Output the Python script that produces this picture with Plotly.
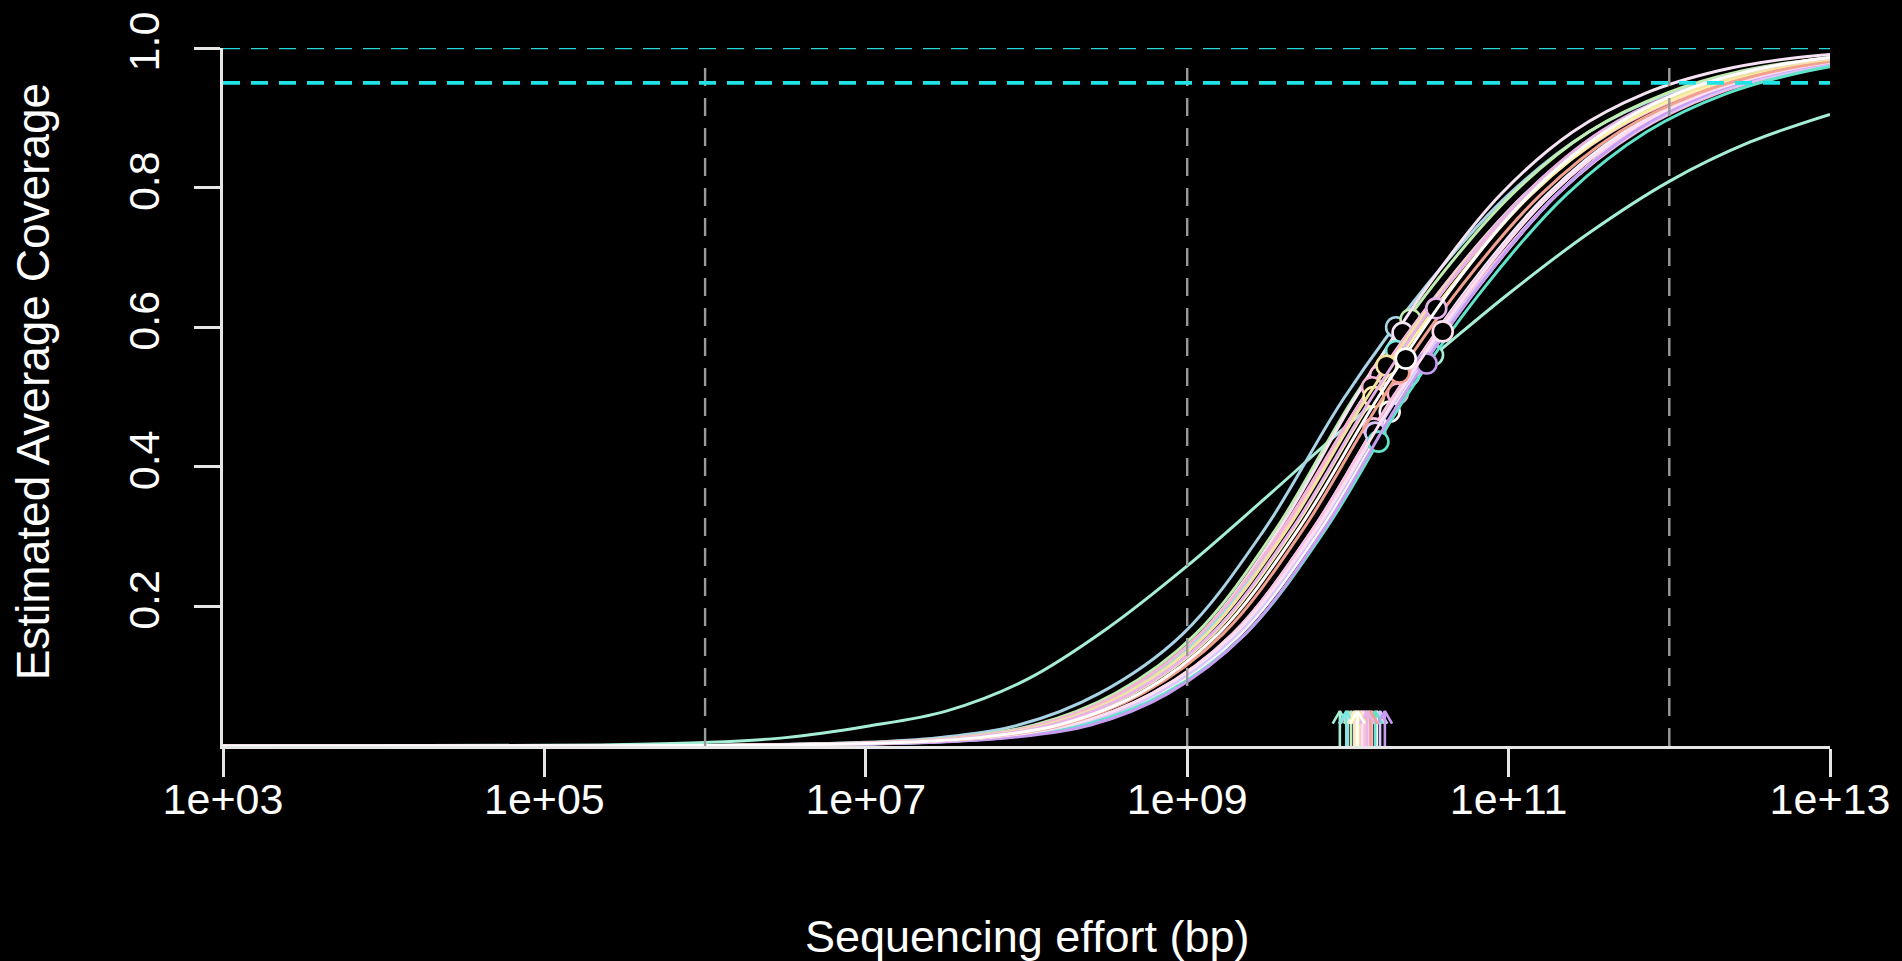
import plotly.graph_objects as go

# ---------------- data ----------------
# coverage levels at which each sample's modelled curve is sampled
COVERAGE_LEVELS = [0.0, 0.0008, 0.005, 0.012, 0.03, 0.075, 0.16, 0.31, 0.5,
                   0.66, 0.79, 0.88, 0.935, 0.967, 0.985, 0.993]

# log10(effort, bp) at which each sample's curve reaches the levels above
effort_lightblue = [3.0, 5.95, 6.95, 7.45, 7.95, 8.45, 8.97, 9.48, 9.98, 10.49, 11.0, 11.5, 12.0, 12.5, 13.0, 13.5]
effort_green = [3.0, 6.05, 7.05, 7.55, 8.05, 8.55, 9.05, 9.55, 10.04, 10.53, 11.02, 11.5, 11.98, 12.45, 12.95, 13.4]
effort_whitepink = [3.0, 6.1, 7.1, 7.6, 8.1, 8.6, 9.08, 9.57, 10.05, 10.5, 10.95, 11.4, 11.85, 12.3, 12.75, 13.15]
effort_cyan = [3.0, 6.1, 7.1, 7.6, 8.1, 8.6, 9.1, 9.6, 10.1, 10.6, 11.1, 11.6, 12.1, 12.6, 13.1, 13.6]
effort_pink1 = [3.0, 6.15, 7.15, 7.65, 8.15, 8.63, 9.12, 9.61, 10.1, 10.6, 11.1, 11.58, 12.06, 12.55, 13.02, 13.5]
effort_pink2 = [3.0, 6.05, 7.05, 7.57, 8.08, 8.58, 9.08, 9.59, 10.1, 10.62, 11.13, 11.64, 12.14, 12.64, 13.14, 13.64]
effort_yellow = [3.0, 6.16, 7.16, 7.66, 8.16, 8.66, 9.16, 9.66, 10.16, 10.65, 11.14, 11.63, 12.12, 12.6, 13.1, 13.55]
effort_white2 = [3.0, 6.3, 7.3, 7.8, 8.3, 8.79, 9.28, 9.78, 10.28, 10.76, 11.24, 11.72, 12.2, 12.68, 13.15, 13.6]
effort_pink3 = [3.0, 6.3, 7.3, 7.8, 8.3, 8.8, 9.3, 9.8, 10.3, 10.8, 11.3, 11.8, 12.3, 12.8, 13.3, 13.8]
effort_white3 = [3.0, 6.35, 7.35, 7.85, 8.35, 8.84, 9.33, 9.83, 10.33, 10.82, 11.3, 11.77, 12.25, 12.72, 13.2, 13.65]
effort_pink4 = [3.0, 6.28, 7.28, 7.78, 8.28, 8.78, 9.28, 9.78, 10.28, 10.77, 11.26, 11.75, 12.24, 12.73, 13.22, 13.7]
effort_lavender = [3.0, 6.3, 7.3, 7.8, 8.31, 8.81, 9.31, 9.81, 10.31, 10.81, 11.3, 11.79, 12.28, 12.77, 13.26, 13.75]
effort_aquamarine = [3.0, 6.36, 7.36, 7.86, 8.36, 8.86, 9.36, 9.86, 10.36, 10.86, 11.36, 11.86, 12.36, 12.86, 13.36, 13.86]
effort_violet = [3.0, 6.4, 7.4, 7.9, 8.4, 8.88, 9.36, 9.85, 10.34, 10.82, 11.3, 11.78, 12.25, 12.72, 13.2, 13.65]
effort_pinkwhite = [3.0, 6.25, 7.25, 7.76, 8.27, 8.78, 9.29, 9.8, 10.3, 10.78, 11.26, 11.74, 12.22, 12.7, 13.18, 13.65]
effort_salmon = [3.0, 6.22, 7.22, 7.72, 8.22, 8.72, 9.22, 9.72, 10.22, 10.71, 11.2, 11.69, 12.18, 12.66, 13.14, 13.6]
effort_khaki = [3.0, 6.12, 7.12, 7.62, 8.12, 8.62, 9.12, 9.62, 10.12, 10.61, 11.1, 11.59, 12.08, 12.56, 13.04, 13.5]
effort_plum = [3.0, 6.15, 7.15, 7.65, 8.15, 8.65, 9.15, 9.65, 10.15, 10.62, 11.1, 11.57, 12.04, 12.5, 12.96, 13.4]
effort_white = [3.0, 6.2, 7.2, 7.7, 8.2, 8.7, 9.19, 9.69, 10.19, 10.66, 11.13, 11.6, 12.05, 12.5, 12.95, 13.4]

# the one sample with a much flatter curve (its own sampling grid)
outlier_log_effort = [3.0, 5.0, 5.5, 6.0, 6.5, 7.0, 7.5, 8.0, 8.5, 9.0, 9.5, 10.0,
                      10.5, 11.0, 11.5, 12.0, 12.5, 13.0]
outlier_coverage = [0.0, 0.001, 0.002, 0.005, 0.012, 0.028, 0.05, 0.095, 0.168, 0.258,
                    0.358, 0.46, 0.553, 0.648, 0.735, 0.809, 0.865, 0.905]

SAMPLE_NAMES = ["outlier", "lightblue", "green", "whitepink", "cyan", "pink1", "pink2",
                "yellow", "white2", "pink3", "white3", "pink4", "lavender", "aquamarine",
                "violet", "pinkwhite", "salmon", "khaki", "plum", "white"]
SAMPLE_COLORS = ["#a6eed6", "#a9d4e6", "#bfeeb0", "#f6e4f4", "#7be8e2", "#ffbde3", "#f6b3d6",
                 "#fff1a6", "#eef0ff", "#ffb3d1", "#f8f8f8", "#f7c2e4", "#d9c8ff", "#5fe3c9",
                 "#c79df2", "#ffdff0", "#f2a190", "#f3e3a0", "#e6b4e8", "#ffffff"]
# observed sequencing effort (log10 bp) and observed coverage -> circles
OBS_LOG_EFFORT = [10.53, 10.30, 10.39, 10.34, 10.30, 10.20, 10.15, 10.16, 10.38, 10.31,
                  10.26, 10.16, 10.17, 10.19, 10.49, 10.59, 10.32, 10.24, 10.55, 10.36]
OBS_COVERAGE = [0.560, 0.600, 0.611, 0.592, 0.566, 0.531, 0.514, 0.500, 0.531, 0.505,
                0.479, 0.455, 0.449, 0.436, 0.548, 0.594, 0.535, 0.545, 0.627, 0.555]
# Nonpareil diversity (log10) -> arrows on the x axis
DIVERSITY_LOG = [9.95, 10.00, 10.02, 10.04, 9.99, 10.08, 10.10, 10.05, 10.13, 10.15,
                 10.18, 10.11, 10.20, 10.17, 10.23, 10.09, 10.14, 10.07, 10.12, 10.06]

CURVE_EFFORTS = {
    "lightblue": effort_lightblue, "green": effort_green, "whitepink": effort_whitepink,
    "cyan": effort_cyan, "pink1": effort_pink1, "pink2": effort_pink2,
    "yellow": effort_yellow, "white2": effort_white2, "pink3": effort_pink3,
    "white3": effort_white3, "pink4": effort_pink4, "lavender": effort_lavender,
    "aquamarine": effort_aquamarine, "violet": effort_violet, "pinkwhite": effort_pinkwhite,
    "salmon": effort_salmon, "khaki": effort_khaki, "plum": effort_plum, "white": effort_white,
}

X_TICK_EXP = [3, 5, 7, 9, 11, 13]
X_TICK_TEXT = ["1e+03", "1e+05", "1e+07", "1e+09", "1e+11", "1e+13"]
Y_TICKS = [0.2, 0.4, 0.6, 0.8, 1.0]
Y_TICK_TEXT = ["0.2", "0.4", "0.6", "0.8", "1.0"]
V_LINES_EXP = [6, 9, 12]
H_LINES = [1.0, 0.95]

# ---------------- style ----------------
FONT = "Liberation Sans, Arial, Helvetica, sans-serif"
FS = 43
FS_TITLE = 45
LW = 3.0
ARROW_TIP = 0.05
ARROW_BASE = 0.032
ARROW_HALF = 0.045  # decades

fig = go.Figure()

for i, name in enumerate(SAMPLE_NAMES):
    col = SAMPLE_COLORS[i]
    if name == "outlier":
        xs = [10 ** v for v in outlier_log_effort]
        ys = outlier_coverage
    else:
        xs = [10 ** v for v in CURVE_EFFORTS[name]]
        ys = COVERAGE_LEVELS
    fig.add_trace(go.Scatter(x=xs, y=ys, mode="lines",
                             line=dict(color=col, width=LW, shape="spline", smoothing=1.0),
                             hoverinfo="skip", showlegend=False))
    fig.add_trace(go.Scatter(x=[10 ** OBS_LOG_EFFORT[i]], y=[OBS_COVERAGE[i]], mode="markers",
                             marker=dict(symbol="circle", size=20, color="#000000",
                                         line=dict(color=col, width=2.6)),
                             showlegend=False, name=name))
    d = DIVERSITY_LOG[i]
    fig.add_trace(go.Scatter(
        x=[10 ** d, 10 ** d, None, 10 ** (d - ARROW_HALF), 10 ** d, 10 ** (d + ARROW_HALF)],
        y=[0, ARROW_TIP, None, ARROW_BASE, ARROW_TIP, ARROW_BASE],
        mode="lines", line=dict(color=col, width=2.6), hoverinfo="skip", showlegend=False))

# reference lines
for e in V_LINES_EXP:
    fig.add_trace(go.Scatter(x=[10 ** e, 10 ** e], y=[0, 0.985], mode="lines",
                             line=dict(color="#9a9a9a", width=2.4, dash="18px,12px"),
                             hoverinfo="skip", showlegend=False))
for k, h in enumerate(H_LINES):
    fig.add_trace(go.Scatter(x=[10 ** 3, 10 ** 13], y=[h, h], mode="lines",
                             line=dict(color="#22d8d8" if k == 0 else "#1fe3e6",
                                       width=2.4 if k == 0 else 3.6, dash="17px,11px"),
                             hoverinfo="skip", showlegend=False))

axis_common = dict(showgrid=False, zeroline=False, showline=True, linecolor="#e6e6e6",
                   linewidth=2.5, ticks="outside", tickcolor="#e6e6e6", tickwidth=2.5,
                   tickfont=dict(family=FONT, size=FS, color="#ffffff"))

fig.update_layout(
    width=1902, height=961,
    paper_bgcolor="#000000", plot_bgcolor="#000000",
    margin=dict(l=223, r=67, t=38, b=215),
    showlegend=False,
    xaxis=dict(type="log", range=[3, 13], tickvals=[10 ** e for e in X_TICK_EXP],
               ticktext=X_TICK_TEXT, ticklen=28, ticklabelstandoff=-14, **axis_common),
    yaxis=dict(range=[0, 1], tickvals=Y_TICKS, ticktext=Y_TICK_TEXT, tickangle=-90,
               ticklen=26, ticklabelstandoff=18, **axis_common),
    annotations=[
        dict(text="Sequencing effort (bp)", xref="paper", yref="paper", x=0.5, y=-0.273,
             xanchor="center", yanchor="middle", showarrow=False,
             font=dict(family=FONT, size=FS_TITLE, color="#ffffff")),
        dict(text="Estimated Average Coverage", xref="paper", yref="paper", x=-0.118, y=0.523,
             xanchor="center", yanchor="middle", textangle=-90, showarrow=False,
             font=dict(family=FONT, size=46, color="#ffffff")),
    ],
)

fig.write_html("out.html", config={"displayModeBar": False},
               post_script="document.body.style.margin='0';document.body.style.background='#000';")
